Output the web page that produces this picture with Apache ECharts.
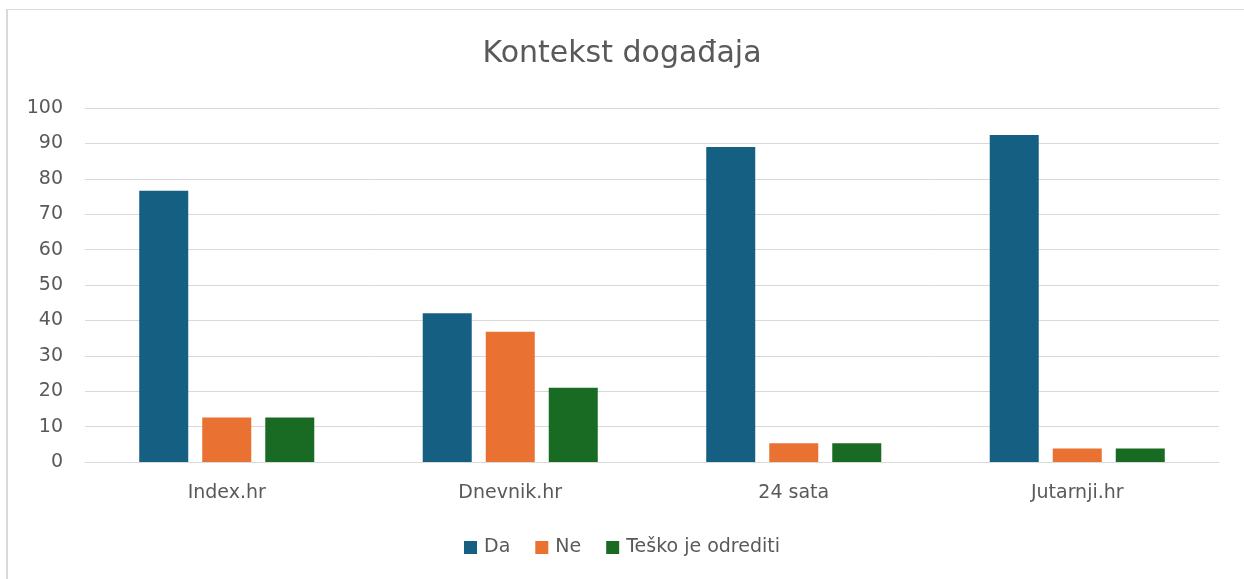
<!DOCTYPE html>
<html>
<head>
<meta charset="utf-8">
<script src="https://cdn.jsdelivr.net/npm/echarts@6/dist/echarts.min.js"></script>
<style>
    html, body { margin: 0; padding: 0; background: #fff; overflow: hidden; }
    #frame {
        position: absolute; left: 6px; top: 9px; width: 1238px; height: 570px;
        border-left: 2px solid #d9d9d9; border-top: 1px solid #d9d9d9; box-sizing: border-box;
    }
    #chart { position: absolute; left: 0; top: 0; width: 1244px; height: 579px; }
</style>
</head>
<body>
<div id="frame"></div>
<div id="chart"></div>
<script>
// podaci
const categories = ['Index.hr', 'Dnevnik.hr', '24 sata', 'Jutarnji.hr'];
const da = [76.6, 42.0, 89.0, 92.4];
const ne = [12.6, 36.8, 5.3, 3.8];
const tesko = [12.6, 21.0, 5.3, 3.8];
const seriesNames = ['Da', 'Ne', 'Teško je odrediti'];

const textColor = '#595959';
const font = 'DejaVu Sans';

const myChart = echarts.init(document.getElementById('chart'));
myChart.setOption({
    animation: false,
    title: {
        text: 'Kontekst događaja',
        left: 'center',
        top: 34,
        textStyle: { color: textColor, fontFamily: font, fontSize: 30, fontWeight: 'normal' }
    },
    legend: {
        bottom: 17,
        left: 'center',
        itemWidth: 13,
        itemHeight: 13,
        itemGap: 25,
        icon: 'rect',
        textStyle: { color: textColor, fontFamily: font, fontSize: 19, padding: [0, 0, 0, 2] },
        data: seriesNames
    },
    grid: { left: 85, right: 25, top: 108, bottom: 117, containLabel: false },
    xAxis: {
        type: 'category',
        data: categories,
        axisLine: { lineStyle: { color: '#d9d9d9', width: 1 } },
        axisTick: { show: false },
        axisLabel: { color: textColor, fontFamily: font, fontSize: 19, margin: 22 }
    },
    yAxis: {
        type: 'value',
        min: 0,
        max: 100,
        interval: 10,
        axisLine: { show: false },
        axisTick: { show: false },
        axisLabel: { color: textColor, fontFamily: font, fontSize: 19, margin: 22 },
        splitLine: { lineStyle: { color: '#d9d9d9', width: 1 } }
    },
    series: [{
        name: seriesNames[0],
        type: 'bar',
        barWidth: 49,
        barGap: '28.6%',
        data: da,
        itemStyle: { color: '#156082' }
    }, {
        name: seriesNames[1],
        type: 'bar',
        barWidth: 49,
        barGap: '28.6%',
        data: ne,
        itemStyle: { color: '#e97132' }
    }, {
        name: seriesNames[2],
        type: 'bar',
        barWidth: 49,
        barGap: '28.6%',
        data: tesko,
        itemStyle: { color: '#196b24' }
    }]
});
</script>
</body>
</html>
